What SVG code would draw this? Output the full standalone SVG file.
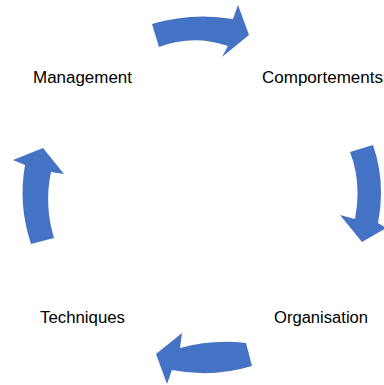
<svg xmlns="http://www.w3.org/2000/svg" width="384" height="385" viewBox="0 0 384 385">
<style>
.arr{fill:#4472C4;stroke:none}
.lbl{font-family:"Liberation Sans",Arial,sans-serif;font-size:16px;fill:#000;text-anchor:middle}
</style>
<rect width="384" height="385" fill="#fff"/>
<g id="connectors">
<path class="arr" d="M152,24 Q192,12 233,19 L238,5 L249,35 L222,57 L228,46 Q193,34 159,47 Z"/>
<path class="arr" d="M350,152 L373,145 Q386,183 378,223 L386,228 L362,242 L340,215 L355,219 Q362,183 350,152 Z"/>
<path class="arr" d="M246,343 Q213,339 180,348 L182,333 L156,354 L167,384 L172,370 Q212,378 252,366 Z"/>
<path class="arr" d="M31,244 Q18,205 25,165 L13,160 L43,148 L64,174 L51,172 Q44,205 54,238 Z"/>
</g>
<g id="management"><text class="lbl" x="82.5" y="82.5" textLength="99" lengthAdjust="spacingAndGlyphs">Management</text></g>
<g id="comportements"><text class="lbl" x="322.5" y="82.5" textLength="121" lengthAdjust="spacingAndGlyphs">Comportements</text></g>
<g id="organisation"><text class="lbl" x="321" y="322.5" textLength="94" lengthAdjust="spacingAndGlyphs">Organisation</text></g>
<g id="techniques"><text class="lbl" x="82.5" y="322.5" textLength="85" lengthAdjust="spacingAndGlyphs">Techniques</text></g>
</svg>
